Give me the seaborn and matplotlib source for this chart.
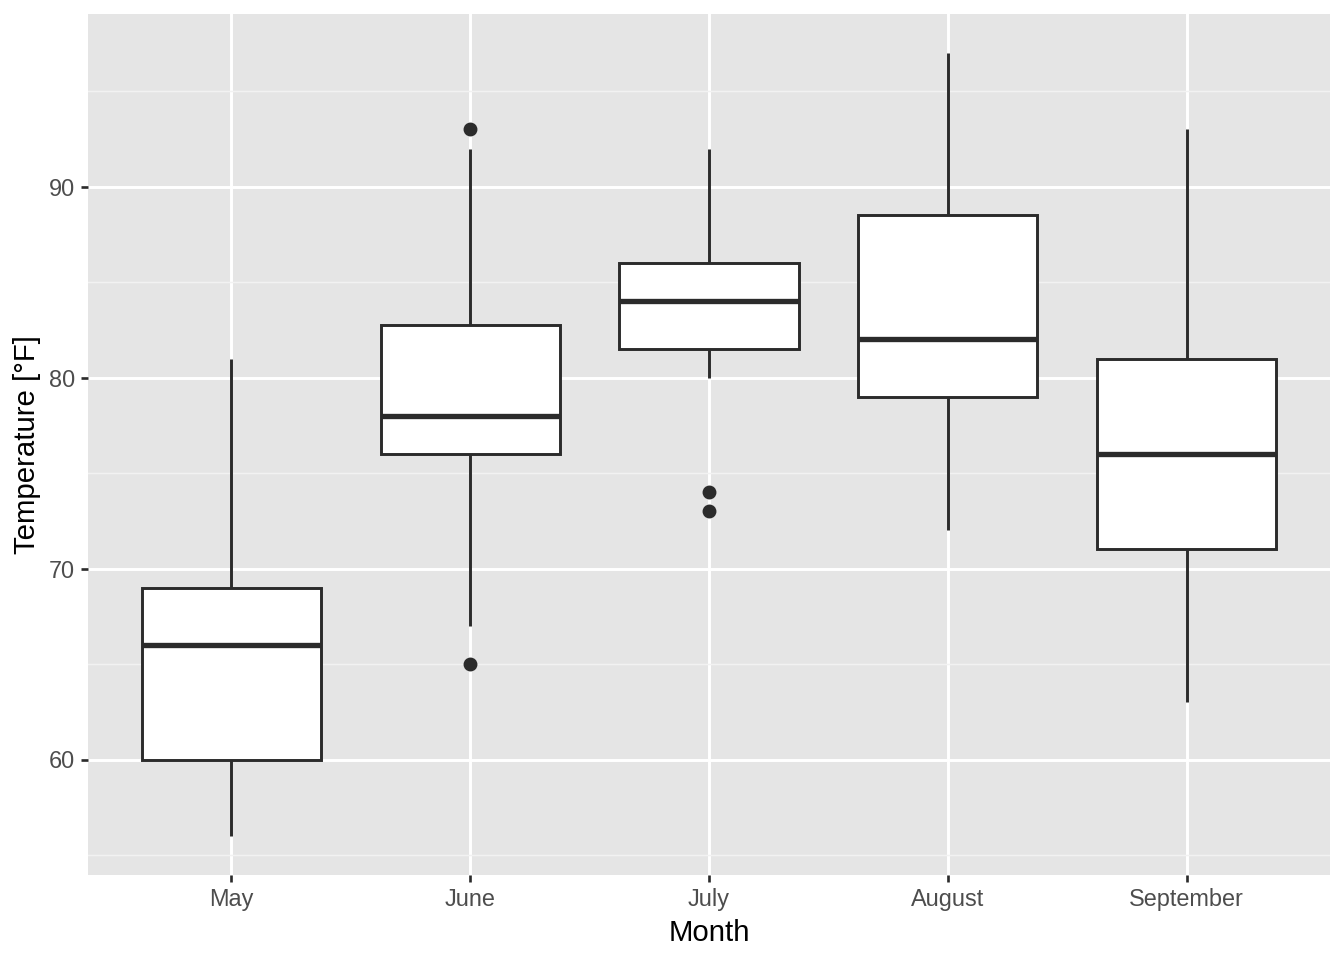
import numpy as np
import pandas as pd
import matplotlib
matplotlib.use('Agg')
import matplotlib.pyplot as plt
from matplotlib.ticker import MultipleLocator
import seaborn as sns

# daily max temperature, New York 1973
months = ['May', 'June', 'July', 'August', 'September']
temp_may = [67, 72, 74, 62, 56, 66, 65, 59, 61, 69, 74, 69, 66, 68, 58, 64, 66, 57,
            68, 62, 59, 73, 61, 61, 57, 58, 57, 67, 81, 79, 76]
temp_jun = [78, 74, 67, 84, 85, 79, 82, 87, 90, 87, 93, 92, 82, 80, 79, 77, 72, 65,
            73, 76, 77, 76, 76, 76, 75, 78, 73, 80, 77, 83]
temp_jul = [84, 85, 81, 84, 83, 83, 88, 92, 92, 89, 82, 73, 81, 91, 80, 81, 82, 84,
            87, 85, 74, 81, 82, 86, 85, 82, 86, 88, 86, 83, 81]
temp_aug = [81, 81, 82, 86, 85, 87, 89, 90, 90, 92, 86, 86, 82, 80, 79, 77, 79, 76,
            78, 78, 77, 72, 75, 79, 81, 86, 88, 97, 94, 96, 94]
temp_sep = [91, 92, 93, 93, 87, 84, 80, 78, 75, 73, 81, 76, 77, 71, 71, 78, 67, 76,
            68, 82, 64, 71, 81, 69, 63, 70, 77, 75, 76, 68]

temps = [temp_may, temp_jun, temp_jul, temp_aug, temp_sep]
df = pd.DataFrame({
    'Month': np.repeat(months, [len(t) for t in temps]),
    'Temp': np.concatenate(temps),
})

plt.rcParams['font.family'] = ['Liberation Sans', 'DejaVu Sans']

fig = plt.figure(figsize=(7, 5), dpi=192)
ax = fig.add_axes([88/1344, 1 - 875/960, (1330-88)/1344, (875-14)/960])
ax.set_facecolor('#E5E5E5')

dark = '#2B2B2B'
sns.boxplot(data=df, x='Month', y='Temp', order=months, ax=ax,
            width=0.75, color='white', linecolor=dark, linewidth=1.1,
            showcaps=False, fliersize=4.2,
            medianprops=dict(linewidth=2.0, color=dark),
            flierprops=dict(marker='o', markerfacecolor=dark, markeredgecolor=dark))

ax.set_xlim(-0.6, 4.6)
ax.set_ylim(53.95, 99.05)
ax.yaxis.set_major_locator(MultipleLocator(10))
ax.yaxis.set_minor_locator(MultipleLocator(5))

ax.set_axisbelow(True)
ax.grid(which='major', color='white', linewidth=1.1)
ax.grid(which='minor', axis='y', color='#F2F2F2', linewidth=0.55)
for s in ax.spines.values():
    s.set_visible(False)

ax.tick_params(axis='both', which='major', length=2.75, width=1.0, color=dark,
               labelsize=8.8, labelcolor='#4D4D4D', pad=2.2)
ax.tick_params(axis='y', which='minor', length=0)

ax.set_xlabel('Month', fontsize=11, color='black', labelpad=2.75)
ax.set_ylabel('Temperature [°F]', fontsize=11, color='black', labelpad=2.75)

fig.savefig('out.png', dpi=192)
plt.close(fig)
